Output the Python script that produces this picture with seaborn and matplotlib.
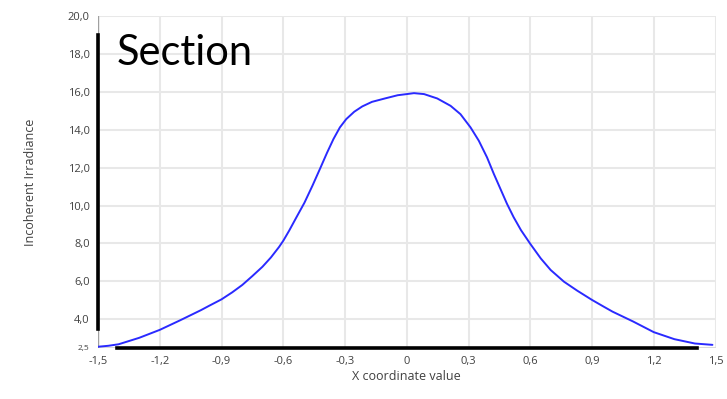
import matplotlib
matplotlib.use("Agg")
import matplotlib.pyplot as plt
import seaborn as sns
import pandas as pd
from matplotlib.ticker import FuncFormatter

# Data
x_vals = [-1.5, -1.45, -1.4, -1.3, -1.2, -1.1, -1.0, -0.962, -0.9, -0.848, -0.799, -0.75,
          -0.701, -0.66, -0.62, -0.6, -0.571, -0.536, -0.497, -0.458, -0.419, -0.3875,
          -0.356, -0.325, -0.294, -0.255, -0.216, -0.169, -0.106, -0.044, 0.0, 0.035,
          0.084, 0.148, 0.213, 0.261, 0.31, 0.35, 0.39, 0.423, 0.455, 0.487, 0.519,
          0.555, 0.6, 0.651, 0.699, 0.764, 0.828, 0.9, 0.956, 1.0, 1.1, 1.2, 1.3, 1.4,
          1.485]
irradiance = [2.55, 2.6, 2.68, 3.02, 3.44, 3.95, 4.48, 4.70, 5.05, 5.42, 5.81, 6.28,
              6.77, 7.26, 7.82, 8.14, 8.68, 9.38, 10.15, 11.05, 12.0, 12.78,
              13.51, 14.12, 14.56, 14.95, 15.23, 15.47, 15.65, 15.82, 15.88, 15.93,
              15.88, 15.65, 15.26, 14.82, 14.12, 13.42, 12.54, 11.67, 10.88, 10.09, 9.39,
              8.7, 7.98, 7.21, 6.6, 5.98, 5.51, 5.02, 4.67, 4.4, 3.88, 3.32, 2.95, 2.72,
              2.65]
x_ticks = [-1.5, -1.2, -0.9, -0.6, -0.3, 0, 0.3, 0.6, 0.9, 1.2, 1.5]
y_ticks = [2.5, 4, 6, 8, 10, 12, 14, 16, 18, 20]
title_text = "Section"
x_label = "X coordinate value"
y_label = "Incoherent Irradiance"

df = pd.DataFrame({"x": x_vals, "y": irradiance})

sns.set_theme(style="white")
plt.rcParams["font.family"] = ["Open Sans", "DejaVu Sans"]

fig = plt.figure(figsize=(7.27, 3.99), dpi=100)
ax = fig.add_axes([0.1348, 0.1286, 0.8494, 0.8313])

sns.lineplot(data=df, x="x", y="y", ax=ax, color="#2a2aff", linewidth=1.4,
             solid_joinstyle="round", solid_capstyle="round")

ax.set_xlim(-1.5, 1.5)
ax.set_ylim(2.5, 20)
ax.set_xticks(x_ticks)
ax.set_yticks(y_ticks)

def xfmt(v, pos):
    if abs(v) < 1e-9:
        return "0"
    return f"{v:.1f}".replace(".", ",")

def yfmt(v, pos):
    return f"{v:.1f}".replace(".", ",")

ax.xaxis.set_major_formatter(FuncFormatter(xfmt))
ax.yaxis.set_major_formatter(FuncFormatter(yfmt))
ax.tick_params(axis="both", length=0, labelsize=8, labelcolor="#404040", pad=6)
for lbl in ax.get_yticklabels():
    if lbl.get_text() == "2,5":
        lbl.set_fontsize(6)

ax.grid(True, color="#e8e8e8", linewidth=1.5)
ax.set_axisbelow(True)

# faint full-length axis lines
ax.axhline(2.5, color="#a0a0a0", linewidth=1.0, zorder=1)
ax.axvline(-1.5, color="#a0a0a0", linewidth=1.0, zorder=1)

for s in ["top", "right"]:
    ax.spines[s].set_visible(False)
ax.spines["left"].set_color("black")
ax.spines["left"].set_linewidth(2.6)
ax.spines["left"].set_bounds(3.5, 19.0)
ax.spines["bottom"].set_color("black")
ax.spines["bottom"].set_linewidth(2.6)
ax.spines["bottom"].set_bounds(-1.41, 1.41)

ax.set_xlabel(x_label, fontsize=9, color="#404040", labelpad=2)
ax.set_ylabel(y_label, fontsize=9, color="#404040", labelpad=22)

ax.text(117 / 727, 1 - 65 / 399, title_text, transform=fig.transFigure,
        fontsize=30, color="black", family=["Lato", "DejaVu Sans"], va="baseline")

fig.savefig("out.png", dpi=100)
